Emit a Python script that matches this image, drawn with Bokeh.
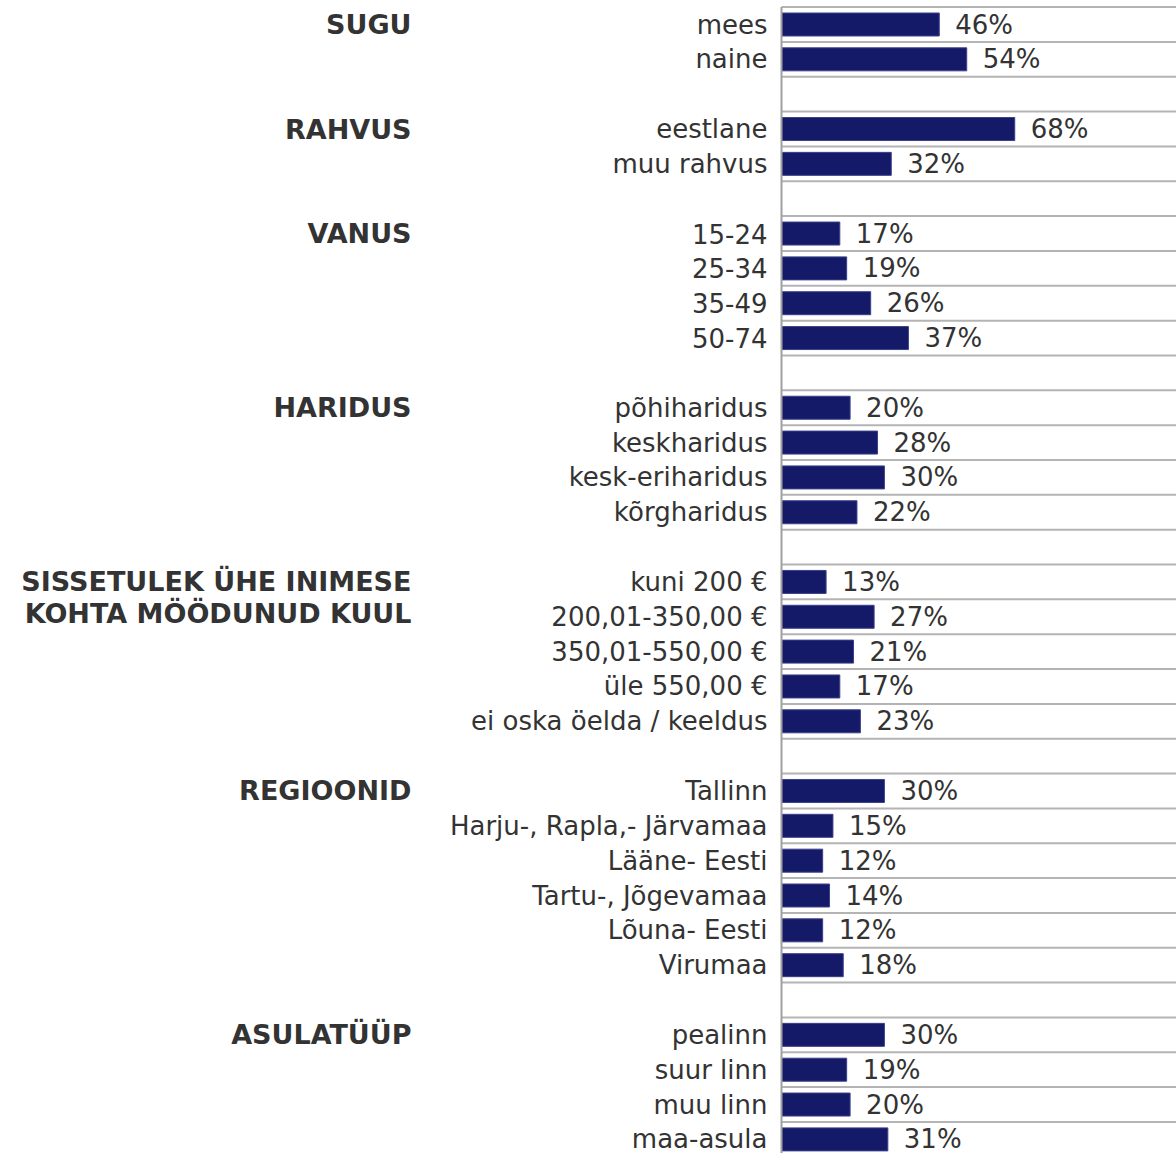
from bokeh.plotting import figure
from bokeh.models import Range1d, ColumnDataSource
from bokeh.core.properties import value
from bokeh.embed import file_html
from bokeh.resources import INLINE

# ---- data ----
group_titles = [
    ["SUGU"],
    ["RAHVUS"],
    ["VANUS"],
    ["HARIDUS"],
    ["SISSETULEK ÜHE INIMESE", "KOHTA MÖÖDUNUD KUUL"],
    ["REGIOONID"],
    ["ASULATÜÜP"],
]
sugu_labels = ["mees", "naine"]
sugu_values = [46, 54]
rahvus_labels = ["eestlane", "muu rahvus"]
rahvus_values = [68, 32]
vanus_labels = ["15-24", "25-34", "35-49", "50-74"]
vanus_values = [17, 19, 26, 37]
haridus_labels = ["põhiharidus", "keskharidus", "kesk-eriharidus", "kõrgharidus"]
haridus_values = [20, 28, 30, 22]
sissetulek_labels = ["kuni 200 €", "200,01-350,00 €", "350,01-550,00 €", "üle 550,00 €",
                     "ei oska öelda / keeldus"]
sissetulek_values = [13, 27, 21, 17, 23]
regioon_labels = ["Tallinn", "Harju-, Rapla,- Järvamaa", "Lääne- Eesti", "Tartu-, Jõgevamaa",
                  "Lõuna- Eesti", "Virumaa"]
regioon_values = [30, 15, 12, 14, 12, 18]
asula_labels = ["pealinn", "suur linn", "muu linn", "maa-asula"]
asula_values = [30, 19, 20, 31]

groups = [
    (sugu_labels, sugu_values),
    (rahvus_labels, rahvus_values),
    (vanus_labels, vanus_values),
    (haridus_labels, haridus_values),
    (sissetulek_labels, sissetulek_values),
    (regioon_labels, regioon_values),
    (asula_labels, asula_values),
]

# ---- build rows (one blank row between groups) ----
row_y, row_lab, row_val, row_txt = [], [], [], []
head_y, head_txt, head_off = [], [], []
r = 0
for gi, (labs, vals) in enumerate(groups):
    for li, line in enumerate(group_titles[gi]):
        head_y.append(r)
        head_txt.append(line)
        head_off.append(li * 32)
    for lab, v in zip(labs, vals):
        row_y.append(r)
        row_lab.append(lab)
        row_val.append(v)
        row_txt.append(f"{v}%")
        r += 1
    r += 1
n_rows = r - 1
boundaries = [i + 0.5 for i in range(-1, n_rows)]

# ---- geometry ----
W, H = 1176, 1153
zero_px = 781.0          # x of 0% inside the figure
px_per_unit = 3.43
row_px = 34.84
first_center = 24.0

x0 = -zero_px / px_per_unit
x1 = (W - zero_px) / px_per_unit
y_top = -first_center / row_px
y_bot = (H - first_center) / row_px

p = figure(width=W, height=H, output_backend="svg", toolbar_location=None,
           x_range=Range1d(x0, x1), y_range=Range1d(y_bot, y_top),
           min_border=0, min_border_left=0, min_border_right=0,
           min_border_top=0, min_border_bottom=0)
p.axis.visible = False
p.grid.visible = False
p.outline_line_color = None
p.background_fill_color = "white"
p.border_fill_color = "white"

TXT = "#333333"
FONT = value("DejaVu Sans")

# gridlines at row boundaries
gsrc = ColumnDataSource(dict(y=boundaries, x0=[0] * len(boundaries), x1=[x1] * len(boundaries)))
p.segment(x0="x0", y0="y", x1="x1", y1="y", source=gsrc, line_color="#b4b4b4", line_width=2)

# bars
bsrc = ColumnDataSource(dict(y=row_y, v=row_val, lab=row_lab, txt=row_txt))
p.hbar(y="y", left=0, right="v", height=0.66, source=bsrc,
       fill_color="#141a68", line_color="#3b4088", line_width=1)

# vertical axis line
p.segment(x0=[0], y0=[y_bot], x1=[0], y1=[-0.5], line_color="#a0a0a0", line_width=2)

# category labels
p.text(x=0, y="y", text="lab", source=bsrc, x_offset=-14, text_align="right",
       text_baseline="middle", text_font=FONT, text_font_size="26px", text_color=TXT)

# value labels
p.text(x="v", y="y", text="txt", source=bsrc, x_offset=16, text_align="left",
       text_baseline="middle", text_font=FONT, text_font_size="26px", text_color=TXT)

# group headers
hsrc = ColumnDataSource(dict(y=head_y, t=head_txt, off=head_off))
p.text(x=0, y="y", text="t", source=hsrc, x_offset=-370, y_offset="off", text_align="right",
       text_baseline="middle", text_font=FONT, text_font_size="27px",
       text_font_style="bold", text_color=TXT)

open("out.html", "w").write(file_html(p, INLINE))
